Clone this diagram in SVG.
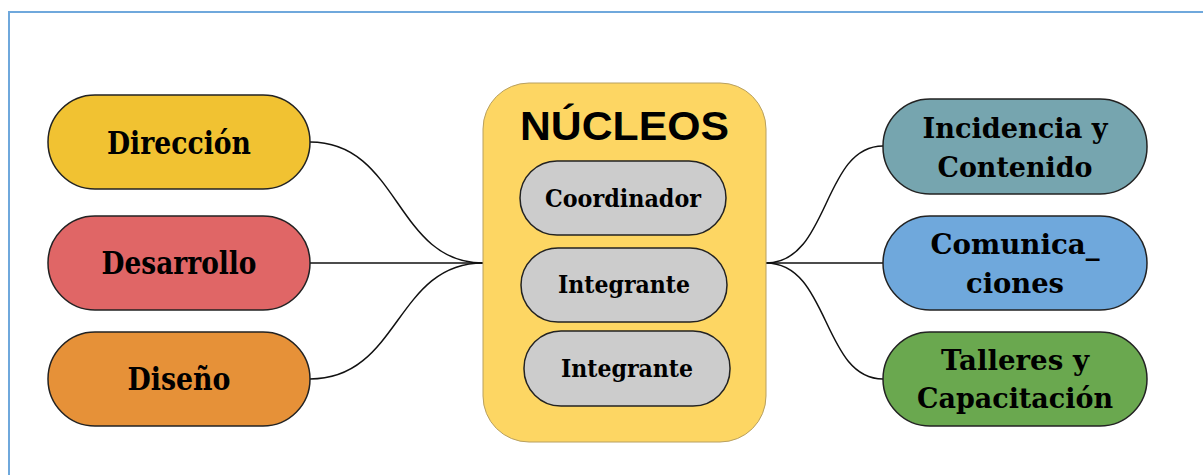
<svg xmlns="http://www.w3.org/2000/svg" width="1203" height="475" viewBox="0 0 1203 475">
<style>
.pill{stroke:#222;stroke-width:1.5}
.t{font-family:"DejaVu Serif","Liberation Serif",serif;font-weight:bold;fill:#000;text-anchor:middle}
.big{font-size:31px}
.mid{font-size:28px}
.small{font-size:24px}
.con{fill:none;stroke:#111;stroke-width:1.5}
</style>
<rect x="0" y="0" width="1203" height="475" fill="#fff"/>
<rect x="9" y="12" width="1220" height="490" fill="none" stroke="#6fa8dc" stroke-width="2"/>
<g id="connectors">
<path class="con" d="M310,142 C400,142 395,263 483,263"/>
<path class="con" d="M310,263 L483,263"/>
<path class="con" d="M310,379 C400,379 395,263 483,263"/>
<path class="con" d="M766,263 C830,263 822,146 883,146"/>
<path class="con" d="M766,263 L883,263"/>
<path class="con" d="M766,263 C830,263 822,379 883,379"/>
</g>
<g id="direccion">
<rect class="pill" x="48" y="95" width="262" height="94" rx="47" fill="#f1c232"/>
<text class="t big" x="179" y="154" textLength="144" lengthAdjust="spacingAndGlyphs">Dirección</text>
</g>
<g id="desarrollo">
<rect class="pill" x="48" y="216" width="262" height="94" rx="47" fill="#e06666"/>
<text class="t big" x="179" y="274" textLength="155" lengthAdjust="spacingAndGlyphs">Desarrollo</text>
</g>
<g id="diseno">
<rect class="pill" x="48" y="332" width="262" height="94" rx="47" fill="#e69138"/>
<text class="t big" x="179" y="390" textLength="103" lengthAdjust="spacingAndGlyphs">Diseño</text>
</g>
<g id="nucleos">
<rect x="483" y="83" width="283" height="359" rx="46" fill="#fdd663" stroke="#b8a060" stroke-width="1"/>
<text x="624.5" y="140" font-family="'Liberation Sans',Arial,sans-serif" font-weight="bold" font-size="40" text-anchor="middle" textLength="209" lengthAdjust="spacingAndGlyphs">NÚCLEOS</text>
</g>
<g id="coordinador">
<rect class="pill" x="520" y="161" width="206" height="74" rx="37" fill="#cccccc"/>
<text class="t small" x="623" y="207" textLength="156" lengthAdjust="spacingAndGlyphs">Coordinador</text>
</g>
<g id="integrante1">
<rect class="pill" x="521" y="248" width="206" height="74" rx="37" fill="#cccccc"/>
<text class="t small" x="624" y="293" textLength="132" lengthAdjust="spacingAndGlyphs">Integrante</text>
</g>
<g id="integrante2">
<rect class="pill" x="524" y="331" width="206" height="75" rx="37" fill="#cccccc"/>
<text class="t small" x="627" y="377" textLength="132" lengthAdjust="spacingAndGlyphs">Integrante</text>
</g>
<g id="incidencia">
<rect class="pill" x="883" y="99" width="264" height="95" rx="47" fill="#76a5af"/>
<text class="t mid" x="1015" y="138" textLength="185" lengthAdjust="spacingAndGlyphs">Incidencia y</text>
<text class="t mid" x="1015" y="177" textLength="155" lengthAdjust="spacingAndGlyphs">Contenido</text>
</g>
<g id="comunicaciones">
<rect class="pill" x="883" y="216" width="264" height="94" rx="47" fill="#6fa8dc"/>
<text class="t mid" x="1015" y="254" textLength="169" lengthAdjust="spacingAndGlyphs">Comunica_</text>
<text class="t mid" x="1015" y="293" textLength="98" lengthAdjust="spacingAndGlyphs">ciones</text>
</g>
<g id="talleres">
<rect class="pill" x="883" y="332" width="264" height="94" rx="47" fill="#6aa84f"/>
<text class="t mid" x="1015" y="370" textLength="148" lengthAdjust="spacingAndGlyphs">Talleres y</text>
<text class="t mid" x="1015" y="408" textLength="196" lengthAdjust="spacingAndGlyphs">Capacitación</text>
</g>
</svg>
